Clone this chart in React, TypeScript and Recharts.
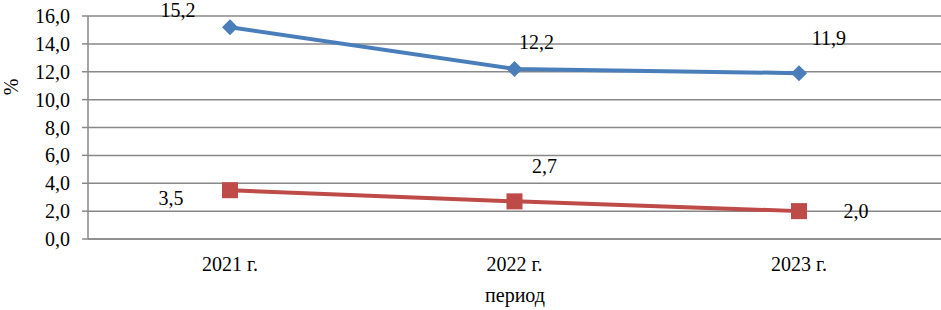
import { CartesianGrid, LabelList, Line, LineChart, XAxis, YAxis } from 'recharts'

const periods = ['2021 г.', '2022 г.', '2023 г.']
const blueValues = [15.2, 12.2, 11.9]
const redValues = [3.5, 2.7, 2.0]
const yTicks = [0, 2, 4, 6, 8, 10, 12, 14, 16]

const data = periods.map((period, i) => ({
  period,
  blue: blueValues[i],
  red: redValues[i],
}))

// label offsets from the point, per index
const blueLabelOffsets = [
  [-52, -17],
  [22, -27],
  [30, -35],
]
const redLabelOffsets = [
  [-59, 8],
  [30, -35],
  [57, 0],
]

const font = 'Liberation Serif'
const grid = '#888888'

const fmt = (v: number) => v.toFixed(1).replace('.', ',')

const makeLabel = (offsets: number[][]) => (props: any) => {
  const { x, y, value, index } = props
  const [dx, dy] = offsets[index] || [0, 0]
  return (
    <text
      x={x + dx}
      y={y + dy}
      textAnchor='middle'
      dominantBaseline='central'
      fontFamily={font}
      fontSize={20}
      fill='#000'
    >
      {fmt(value)}
    </text>
  )
}

const Diamond = (props: any) => {
  const { cx, cy } = props
  if (cx == null || cy == null) return null
  const r = 8
  return (
    <polygon
      points={`${cx},${cy - r} ${cx + r},${cy} ${cx},${cy + r} ${cx - r},${cy}`}
      fill='#4a7ebb'
    />
  )
}

const Square = (props: any) => {
  const { cx, cy } = props
  if (cx == null || cy == null) return null
  const s = 16
  return <rect x={cx - s / 2} y={cy - s / 2} width={s} height={s} fill='#be4b48' />
}

export default function App() {
  return (
    <div style={{ position: 'absolute', left: 0, top: 0 }}>
      <LineChart
        width={941}
        height={310}
        data={data}
        margin={{ top: 16, right: 0, bottom: 0, left: 0 }}
      >
        <CartesianGrid vertical={false} stroke={grid} strokeWidth={1.5} />
        <XAxis
          dataKey='period'
          height={71}
          padding={{ left: 142, right: 142 }}
          axisLine={{ stroke: grid, strokeWidth: 1.5 }}
          tickLine={false}
          tickMargin={12}
          tick={{ fill: '#000', fontSize: 20, fontFamily: font }}
          label={{
            content: () => (
              <text x={515} y={302} textAnchor='middle' fontFamily={font} fontSize={20} fill='#000'>
                период
              </text>
            ),
          }}
        />
        <YAxis
          width={88}
          domain={[0, 16]}
          ticks={yTicks}
          interval={0}
          axisLine={{ stroke: grid, strokeWidth: 1.5 }}
          tickLine={{ stroke: grid, strokeWidth: 1.5 }}
          tickSize={6}
          tickMargin={12}
          tickFormatter={fmt}
          tick={{ fill: '#000', fontSize: 20, fontFamily: font }}
          label={{
            content: () => (
              <text
                x={11}
                y={87}
                transform='rotate(-90 11 87)'
                textAnchor='middle'
                dominantBaseline='central'
                fontFamily={font}
                fontSize={20}
                fill='#000'
              >
                %
              </text>
            ),
          }}
        />
        <Line
          dataKey='blue'
          stroke='#4a7ebb'
          strokeWidth={4}
          dot={<Diamond />}
          activeDot={false}
          isAnimationActive={false}
        >
          <LabelList dataKey='blue' content={makeLabel(blueLabelOffsets)} />
        </Line>
        <Line
          dataKey='red'
          stroke='#be4b48'
          strokeWidth={4}
          dot={<Square />}
          activeDot={false}
          isAnimationActive={false}
        >
          <LabelList dataKey='red' content={makeLabel(redLabelOffsets)} />
        </Line>
      </LineChart>
    </div>
  )
}
